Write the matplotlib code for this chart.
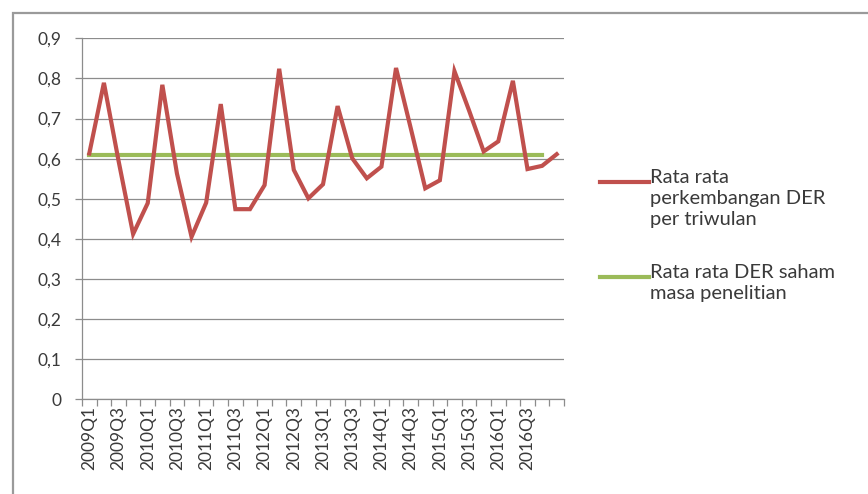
import numpy as np
import matplotlib
matplotlib.use("Agg")
import matplotlib.pyplot as plt
from matplotlib.lines import Line2D
from matplotlib.patches import Rectangle

plt.rcParams['font.family'] = ['Lato', 'DejaVu Sans']

# Quarterly categories 2009Q1 .. 2017Q1 (the last category carries no label)
quarters = [f"{y}Q{q}" for y in range(2009, 2017) for q in range(1, 5)] + [""]

der_quarterly = [0.613, 0.789, 0.595, 0.412, 0.489, 0.784, 0.563, 0.405,
                 0.490, 0.736, 0.474, 0.474, 0.534, 0.824, 0.572, 0.501,
                 0.536, 0.731, 0.601, 0.551, 0.580, 0.826, 0.677, 0.526,
                 0.546, 0.818, 0.720, 0.618, 0.643, 0.794, 0.574, 0.582,
                 0.611]
der_period_avg = [0.61] * 32

series_names = ["Rata rata\nperkembangan DER\nper triwulan",
                "Rata rata DER saham\nmasa penelitian"]
y_ticks = [0, 0.1, 0.2, 0.3, 0.4, 0.5, 0.6, 0.7, 0.8, 0.9]

red = "#C0504D"
green = "#9BBB59"
grid_c = "#8C8C8C"
text_c = "#3A3A3A"

W, H = 868, 494
fig = plt.figure(figsize=(W / 100, H / 100), dpi=100)
fig.patch.set_facecolor("white")

# chart frame
fig.patches.append(Rectangle((12.5 / W, -0.05), (W + 20) / W, 1 - 13 / H + 0.05,
                             transform=fig.transFigure, fill=False,
                             edgecolor="#9A9A9A", linewidth=1.6))

ax = fig.add_axes([82 / W, 1 - 399.3 / H, (564 - 82) / W, (399.3 - 38.3) / H])

x = np.arange(len(quarters))
ax.plot(x, der_quarterly, color=red, linewidth=3.0, solid_joinstyle="miter",
        zorder=3)
ax.plot(np.arange(len(der_period_avg)), der_period_avg, color=green,
        linewidth=3.0, zorder=2)

ax.set_xlim(-0.5, len(quarters) - 0.5)
ax.set_ylim(0, 0.9)
ax.set_yticks(y_ticks)
ax.set_yticklabels([("%.1f" % v).replace(".", ",") if v else "0" for v in y_ticks],
                   fontsize=12.5, color=text_c)
ax.yaxis.grid(True, color=grid_c, linewidth=0.9)
ax.set_axisbelow(True)

label_idx = list(range(0, len(quarters), 2))
ax.set_xticks(label_idx)
ax.set_xticklabels([quarters[i] for i in label_idx], rotation=90,
                   fontsize=12.5, color=text_c)
ax.set_xticks(np.arange(-0.5, len(quarters)), minor=True)
ax.tick_params(axis="x", which="major", length=0, pad=5)
ax.tick_params(axis="x", which="minor", length=5, color=grid_c, width=0.9,
               direction="out")
ax.tick_params(axis="y", length=5, color=grid_c, width=0.9, pad=10)

for s in ["top", "right"]:
    ax.spines[s].set_visible(False)
for s in ["left", "bottom"]:
    ax.spines[s].set_color(grid_c)
    ax.spines[s].set_linewidth(0.9)

# legend drawn beside the plot area
for (ly, ty, col, name) in [(182, 169, red, series_names[0]),
                            (277, 264, green, series_names[1])]:
    fig.add_artist(Line2D([600 / W, 649 / W], [1 - ly / H, 1 - ly / H],
                          color=col, linewidth=3.0,
                          transform=fig.transFigure))
    fig.text(650 / W, 1 - ty / H, name, fontsize=14.5, color=text_c,
             va="top", ha="left", linespacing=1.3)

fig.savefig("out.png", dpi=100)
